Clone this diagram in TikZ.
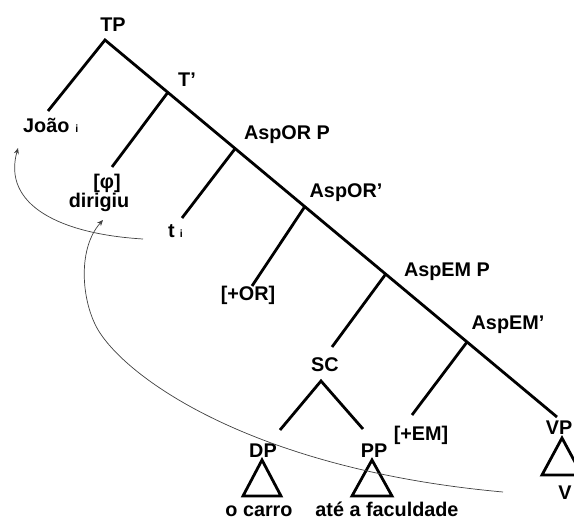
\documentclass[tikz,border=0pt]{standalone}
\usepackage{fontspec}
\setmainfont{Liberation Sans}
\usetikzlibrary{arrows.meta,calc}
\newcommand\trcidx{{\fontsize{10.5}{10.5}\selectfont i}}
\begin{document}
\begin{tikzpicture}[x=1pt,y=-1pt,
  lbl/.style={font=\fontsize{19.8}{22}\selectfont\bfseries, inner sep=0pt, anchor=base},
  lblw/.style={lbl, anchor=base west},
  branch/.style={line width=2.8pt},
  tri/.style={line width=2.8pt, line join=miter},
  move/.style={line width=0.7pt, draw=black!75, -{Stealth[length=6pt,width=5pt]}}
]
\useasboundingbox (0,0) rectangle (574,521);

% spine of the tree
\coordinate (tp)     at (105,40);
\coordinate (vpend)  at (557,417);
\coordinate (tbar)   at ($(tp)!0.139!(vpend)$);
\coordinate (asporp) at ($(tp)!0.288!(vpend)$);
\coordinate (aspor1) at ($(tp)!0.442!(vpend)$);
\coordinate (aspemp) at ($(tp)!0.621!(vpend)$);
\coordinate (aspem1) at ($(tp)!0.801!(vpend)$);

% lower ends of the left branches
\coordinate (joaoend) at (48,111);
\coordinate (phiend)  at (112,167);
\coordinate (tiend)   at (182,218);
\coordinate (orend)   at (252,286);
\coordinate (scend)   at (332,347);
\coordinate (emend)   at (412,415);
\coordinate (sc)      at (321,381);
\coordinate (dpend)   at (280,430);
\coordinate (ppend)   at (363,429);

% labels
\node[lbl] (TP)     at (113,32)  {TP};
\node[lbl] (Tb)     at (187,87)  {T’};
\node[lbl] (AORP)   at (287,140) {AspOR P};
\node[lbl] (AORb)   at (346,198) {AspOR’};
\node[lbl] (AEMP)   at (447,277) {AspEM P};
\node[lbl] (AEMb)   at (508,330) {AspEM’};
\node[lblw] (Joao)  at (23,133)  {João\hspace{6pt}\trcidx};
\node[lbl] (Phi)    at (107,189) {[φ]};
\node[lbl] (Dir)    at (99,208)  {dirigiu};
\node[lblw] (Ti)    at (168,238) {t\hspace{5pt}\trcidx};
\node[lbl] (OR)     at (248,301) {[+OR]};
\node[lbl] (SC)     at (325,372) {SC};
\node[lbl] (DP)     at (263,458) {DP};
\node[lbl] (PP)     at (374,458) {PP};
\node[lbl] (EM)     at (421,441) {[+EM]};
\node[lbl] (VP)     at (559,435) {VP};
\node[lbl] (V)      at (565,500) {V};
\node[lbl] (carro)  at (259,517) {o carro};
\node[lbl] (fac)    at (387,517) {até a faculdade};

% branches
\draw[branch] (joaoend) -- (tp) -- (vpend);
\draw[branch] (tbar) -- (phiend);
\draw[branch] (asporp) -- (tiend);
\draw[branch] (aspor1) -- (orend);
\draw[branch] (aspemp) -- (scend);
\draw[branch] (aspem1) -- (emend);
\draw[branch] (dpend) -- (sc) -- (ppend);

% triangles
\draw[tri] (262,460) -- (281,496) -- (243,496) -- cycle;
\draw[tri] (372,460) -- (392,496) -- (352,496) -- cycle;
\draw[tri] (562,438) -- (582,475) -- (542,475) -- cycle;

% movement arrows
\coordinate (tistart)  at (143,239);
\coordinate (joaotip)  at (18,148);
\coordinate (vstart)   at (503,492);
\coordinate (bend)     at (100,333);
\coordinate (dirtip)   at (103,220);
\draw[move] (tistart) .. controls (60,234) and (2,205) .. (joaotip);
\draw[move] (vstart) .. controls (260,470) and (133,383) .. (bend)
                     .. controls (82,306) and (76,250) .. (dirtip);
\end{tikzpicture}
\end{document}
